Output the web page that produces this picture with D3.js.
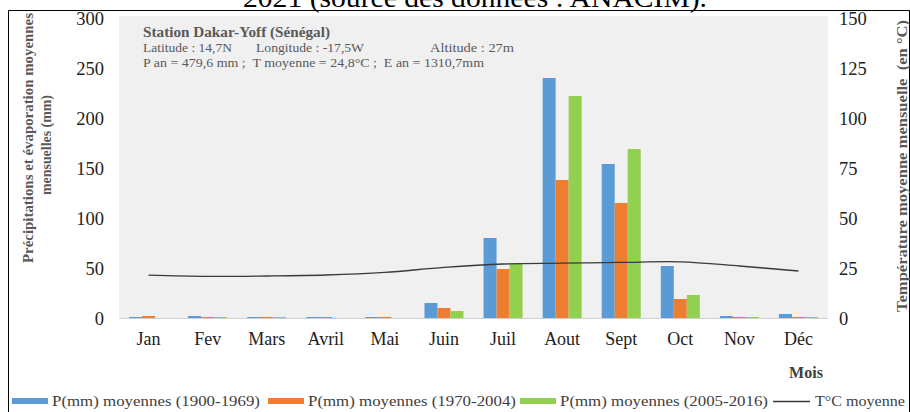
<!DOCTYPE html>
<html>
<head>
<meta charset="utf-8">
<script src="https://cdn.jsdelivr.net/npm/d3@7"></script>
<style>
body { margin: 0; background: #fff; }
svg { display: block; font-family: "Liberation Serif", "Times New Roman", serif; }
</style>
</head>
<body>
<div id="chart"></div>
<script>
var w = 910;
var h = 412;

var months = ["Jan", "Fev", "Mars", "Avril", "Mai", "Juin", "Juil", "Aout", "Sept", "Oct", "Nov", "Déc"];
var p1900 = [1, 2, 1, 1, 1, 15, 80, 240, 154, 52, 2, 4];
var p1970 = [2, 1, 1, 1, 1, 10, 49, 138, 115, 19, 1, 1];
var p2005 = [0, 1, 1, 0, 0, 7, 55, 222, 169, 23, 1, 1];
var temp = [21.4, 20.8, 21, 21.5, 22.8, 25.3, 27, 27.4, 27.8, 28.1, 26, 23.5];
var leftTicks = [0, 50, 100, 150, 200, 250, 300];
var rightTicks = [0, 25, 50, 75, 100, 125, 150];

var series = [
  { name: "P(mm) moyennes (1900-1969)", values: p1900, color: "#5b9bd5" },
  { name: "P(mm) moyennes (1970-2004)", values: p1970, color: "#ed7d31" },
  { name: "P(mm) moyennes (2005-2016)", values: p2005, color: "#92d050" }
];

var plotL = 119, plotR = 828, plotT = 18, plotB = 318;

var svg = d3.select("#chart").append("svg")
  .attr("width", w)
  .attr("height", h);

// frame and cut title
svg.append("text")
  .attr("x", 243).attr("y", 7)
  .attr("font-size", 28)
  .attr("textLength", 464).attr("lengthAdjust", "spacingAndGlyphs")
  .attr("fill", "#000")
  .text("2021 (source des données : ANACIM).");
svg.append("path")
  .attr("d", "M8.5," + h + "V10.5H909.5V" + h)
  .attr("fill", "none")
  .attr("stroke", "#000")
  .attr("stroke-width", 1);

// plot area
svg.append("rect")
  .attr("x", plotL).attr("y", plotT - 2)
  .attr("width", plotR - plotL).attr("height", plotB - plotT + 2)
  .attr("fill", "#f0f0f0");

var x = d3.scaleBand().domain(months).range([plotL, plotR]).paddingInner(0.34).paddingOuter(0.17);
var xs = d3.scaleBand().domain([0, 1, 2]).range([0, x.bandwidth()]);
var y = d3.scaleLinear().domain([0, 300]).range([plotB, plotT]);
var y2 = d3.scaleLinear().domain([0, 150]).range([plotB, plotT]);

// bars
series.forEach(function(s, si) {
  svg.append("g").selectAll("rect")
    .data(s.values)
    .enter()
    .append("rect")
    .attr("x", function(d, i) { return x(months[i]) + xs(si); })
    .attr("y", function(d) { return y(d); })
    .attr("width", xs.bandwidth())
    .attr("height", function(d) { return plotB - y(d); })
    .attr("fill", s.color);
});

// baseline
svg.append("line")
  .attr("x1", plotL).attr("x2", plotR)
  .attr("y1", plotB + 0.5).attr("y2", plotB + 0.5)
  .attr("stroke", "#d0d0d0");

// temperature line
var line = d3.line()
  .x(function(d, i) { return x(months[i]) + x.bandwidth() / 2; })
  .y(function(d) { return y2(d); })
  .curve(d3.curveCatmullRom);
svg.append("path")
  .datum(temp)
  .attr("d", line)
  .attr("fill", "none")
  .attr("stroke", "#3a3a3a")
  .attr("stroke-width", 1.3);

// axes
var yAxis = d3.axisLeft(y).tickValues(leftTicks).tickSize(0).tickPadding(0);
var gy = svg.append("g").attr("transform", "translate(104,0)").call(yAxis);
var y2Axis = d3.axisRight(y2).tickValues(rightTicks).tickSize(0).tickPadding(0);
var gy2 = svg.append("g").attr("transform", "translate(839,0)").call(y2Axis);
var xAxis = d3.axisBottom(x).tickSize(0).tickPadding(0);
var gx = svg.append("g").attr("transform", "translate(0,345)").call(xAxis);
[gy, gy2, gx].forEach(function(g) {
  g.select(".domain").remove();
  g.selectAll("text")
    .attr("font-family", "Liberation Serif")
    .attr("font-size", 18.5)
    .attr("fill", "#222");
});
gy.selectAll("text").attr("dy", "0.35em");
gy2.selectAll("text").attr("dy", "0.35em");
gx.selectAll("text").attr("dy", 0).attr("font-size", 18);

// axis titles
svg.append("text")
  .attr("transform", "translate(33,138) rotate(-90)")
  .attr("text-anchor", "middle")
  .attr("font-size", 15.5).attr("font-weight", "bold").attr("fill", "#595959")
  .attr("textLength", 250).attr("lengthAdjust", "spacingAndGlyphs")
  .text("Précipitations et évaporation moyennes");
svg.append("text")
  .attr("transform", "translate(51,145) rotate(-90)")
  .attr("text-anchor", "middle")
  .attr("font-size", 15.5).attr("font-weight", "bold").attr("fill", "#595959")
  .attr("textLength", 100).attr("lengthAdjust", "spacingAndGlyphs")
  .text("mensuelles (mm)");
svg.append("text")
  .attr("transform", "translate(907,166) rotate(-90)")
  .attr("text-anchor", "middle")
  .attr("font-size", 15.5).attr("font-weight", "bold").attr("fill", "#595959")
  .attr("textLength", 292).attr("lengthAdjust", "spacingAndGlyphs")
  .attr("xml:space", "preserve")
  .text("Température moyenne mensuelle  (en °C)");
svg.append("text")
  .attr("x", 806).attr("y", 378)
  .attr("text-anchor", "middle")
  .attr("font-size", 16).attr("font-weight", "bold").attr("fill", "#404040")
  .text("Mois");

// station info
var info = svg.append("g").attr("fill", "#595959");
info.append("text").attr("x", 143).attr("y", 37)
  .attr("font-size", 14).attr("font-weight", "bold")
  .attr("textLength", 187).attr("lengthAdjust", "spacingAndGlyphs")
  .text("Station Dakar-Yoff (Sénégal)");
info.append("text").attr("x", 143).attr("y", 52).attr("font-size", 13)
  .attr("textLength", 89).attr("lengthAdjust", "spacingAndGlyphs")
  .text("Latitude : 14,7N");
info.append("text").attr("x", 256).attr("y", 52).attr("font-size", 13)
  .attr("textLength", 108).attr("lengthAdjust", "spacingAndGlyphs")
  .text("Longitude : -17,5W");
info.append("text").attr("x", 430).attr("y", 52).attr("font-size", 13)
  .attr("textLength", 84).attr("lengthAdjust", "spacingAndGlyphs")
  .text("Altitude : 27m");
info.append("text").attr("x", 143).attr("y", 67).attr("font-size", 13)
  .attr("xml:space", "preserve")
  .attr("textLength", 341).attr("lengthAdjust", "spacingAndGlyphs")
  .text("P an = 479,6 mm ;  T moyenne = 24,8°C ;  E an = 1310,7mm");

// legend
var legendX = [12, 268, 520];
var lg = svg.append("g");
series.forEach(function(s, i) {
  lg.append("rect")
    .attr("x", legendX[i]).attr("y", 398)
    .attr("width", 36).attr("height", 6)
    .attr("fill", s.color);
  lg.append("text")
    .attr("x", legendX[i] + 40).attr("y", 406)
    .attr("font-size", 15).attr("fill", "#404040")
    .attr("textLength", 208).attr("lengthAdjust", "spacingAndGlyphs")
    .text(s.name);
});
lg.append("line")
  .attr("x1", 773).attr("x2", 810).attr("y1", 401.5).attr("y2", 401.5)
  .attr("stroke", "#3a3a3a").attr("stroke-width", 1.3);
lg.append("text")
  .attr("x", 815).attr("y", 406)
  .attr("font-size", 15).attr("fill", "#404040")
  .attr("textLength", 90).attr("lengthAdjust", "spacingAndGlyphs")
  .text("T°C moyenne");
</script>
</body>
</html>
